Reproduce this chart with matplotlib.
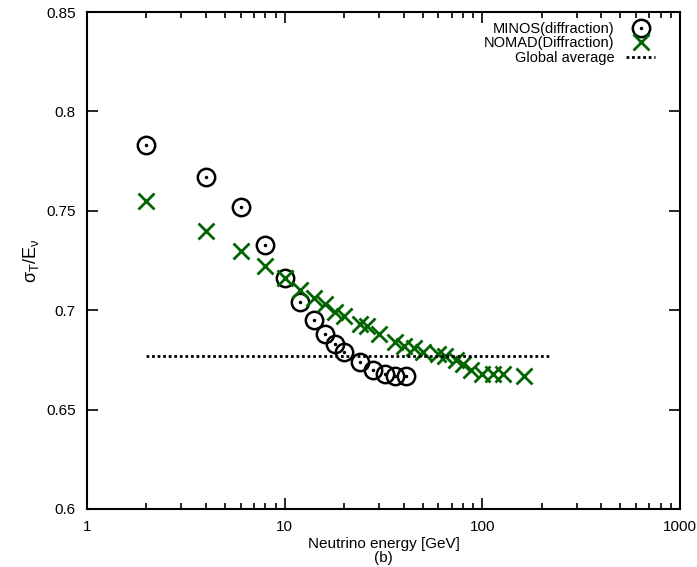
import matplotlib
matplotlib.use("Agg")
import matplotlib.pyplot as plt
from matplotlib.ticker import LogLocator, NullFormatter, FixedLocator

plt.rcParams['font.family'] = ['Liberation Sans', 'DejaVu Sans']

# MINOS (diffraction)
minos_e = [2, 4, 6, 8, 10, 12, 14, 16, 18, 20, 24, 28, 32, 36, 41]
minos_r = [0.783, 0.767, 0.752, 0.733, 0.716, 0.704, 0.695, 0.688, 0.683, 0.679,
           0.674, 0.670, 0.668, 0.667, 0.667]

# NOMAD (Diffraction)
nomad_e = [2, 4, 6, 8, 10, 12, 14, 16, 18, 20, 24, 26, 30, 36, 40, 45, 50,
           60, 65, 74, 80, 88, 100, 113, 127, 162]
nomad_r = [0.755, 0.740, 0.730, 0.722, 0.716, 0.710, 0.706, 0.703, 0.699, 0.697,
           0.693, 0.692, 0.688, 0.684, 0.682, 0.681, 0.679, 0.678, 0.677, 0.675,
           0.673, 0.670, 0.668, 0.668, 0.668, 0.667]

# Global average
avg_e = [2, 220]
avg_r = [0.677, 0.677]

green = '#006400'

fig = plt.figure(figsize=(6.97, 5.67), dpi=100)
ax = fig.add_axes([0.1248, 0.1023, 0.8508, 0.8765])

ring = dict(linestyle='none', marker='o', markersize=12.5,
            markerfacecolor='none', markeredgecolor='black', markeredgewidth=1.8)
dot = dict(linestyle='none', marker='o', markersize=1.5, color='black')
cross = dict(linestyle='none', marker='x', markersize=11, markeredgewidth=2, color=green)
dotted = dict(color='black', linestyle=(0, (1, 1)), linewidth=2)

ax.plot(minos_e, minos_r, **ring)
ax.plot(minos_e, minos_r, **dot)
ax.plot(nomad_e, nomad_r, **cross)
ax.plot(avg_e, avg_r, **dotted)

# legend handles
h_ring, = ax.plot([], [], **ring)
h_dot, = ax.plot([], [], **dot)
h_x, = ax.plot([], [], **cross)
h_avg, = ax.plot([], [], **dotted)
ax.legend([(h_ring, h_dot), h_x, h_avg],
          ['MINOS(diffraction)', 'NOMAD(Diffraction)', 'Global average'],
          loc='upper right', frameon=False, markerfirst=False, fontsize=10.5,
          labelspacing=0.05, handlelength=2.0, handletextpad=0.8,
          borderaxespad=0.4, bbox_to_anchor=(0.978, 1.004))

ax.set_xscale('log')
ax.set_xlim(1, 1000)
ax.set_ylim(0.6, 0.85)
ax.set_xticks([1, 10, 100, 1000])
ax.set_xticklabels(['1', '10', '100', '1000'])
ax.xaxis.set_minor_locator(LogLocator(base=10, subs=range(2, 10)))
ax.xaxis.set_minor_formatter(NullFormatter())
ax.yaxis.set_major_locator(FixedLocator([0.6, 0.65, 0.7, 0.75, 0.8, 0.85]))
ax.set_yticklabels(['0.6', '0.65', '0.7', '0.75', '0.8', '0.85'])

ax.tick_params(which='both', direction='in', top=True, right=True,
               labelsize=11, width=1.2)
ax.tick_params(which='major', length=8, pad=8)
ax.tick_params(which='minor', length=4)
for s in ax.spines.values():
    s.set_linewidth(1.5)

ax.set_xlabel('Neutrino energy [GeV]\n(b)', fontsize=11, labelpad=2, linespacing=1.0)
ax.set_ylabel(r'$\mathregular{\sigma_T/E_\nu}$', fontsize=13, labelpad=4)

fig.savefig('out.png', dpi=100)
